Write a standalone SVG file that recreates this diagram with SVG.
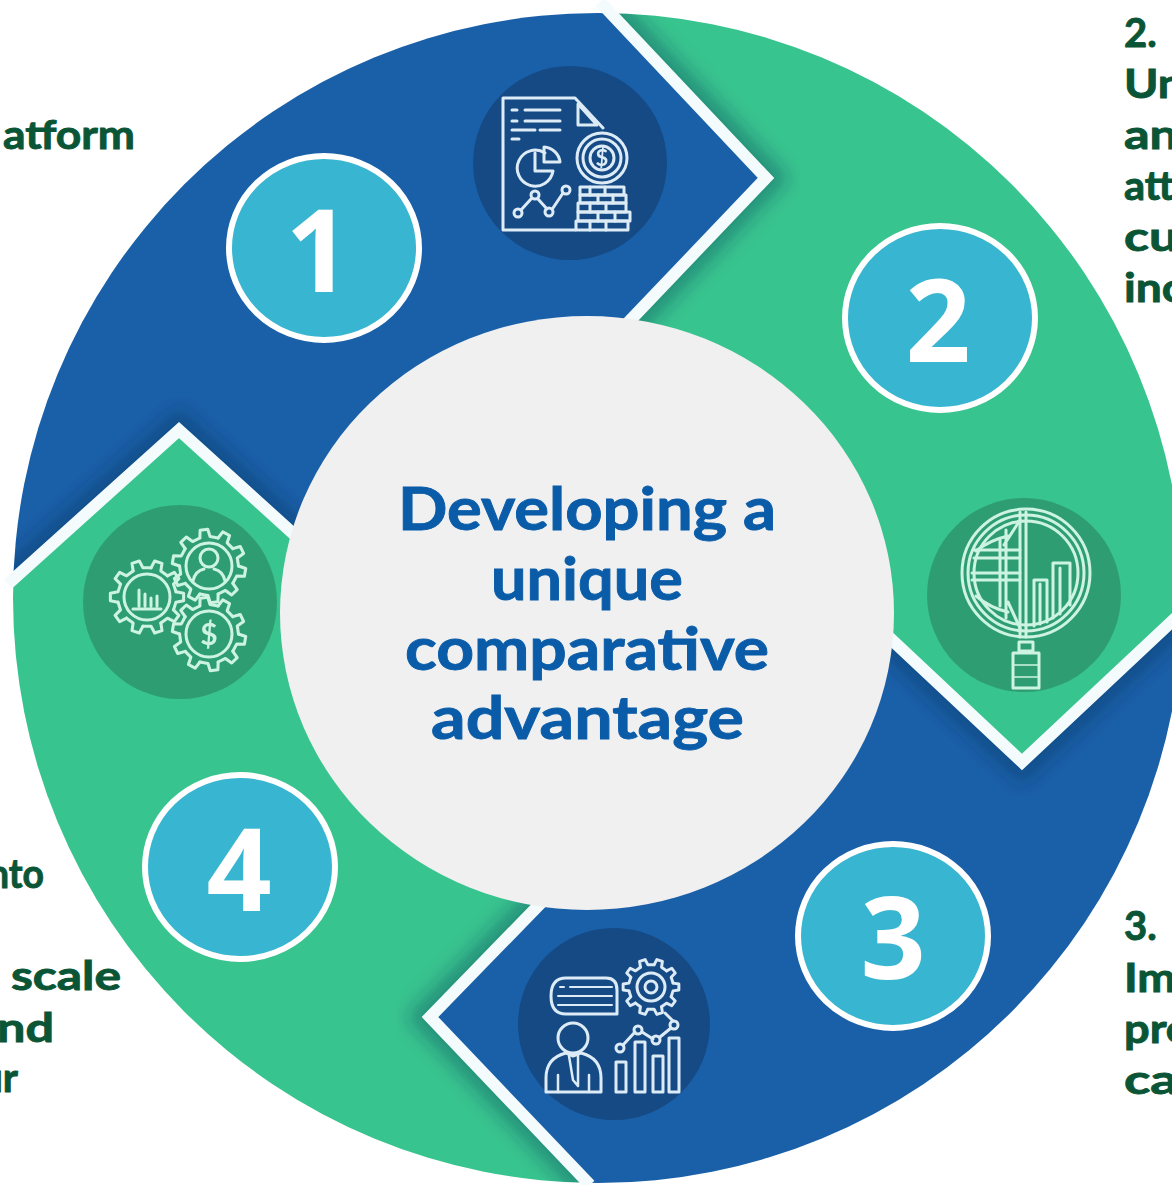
<svg xmlns="http://www.w3.org/2000/svg" xmlns:xlink="http://www.w3.org/1999/xlink" width="1172" height="1185" viewBox="0 0 1172 1185">
<style>
text{font-family:"Lato","Open Sans","Liberation Sans",sans-serif;font-weight:700}
.blue{fill:#1A60A8}.green{fill:#38C48F}
.sep{fill:none;stroke:#F4FBFC;stroke-width:12;stroke-linejoin:miter;stroke-miterlimit:8}
.sh{fill:none;stroke:#06304F;stroke-opacity:.34;stroke-width:34}
.num{fill:#38B5D0;stroke:#fff;stroke-width:6}
.digit{fill:#fff;font-family:"Open Sans","Liberation Sans",sans-serif;font-weight:700;font-size:114px;text-anchor:middle}
.lab{fill:#0B5537;stroke:#0B5537;stroke-width:.9;font-size:40px}
.title{fill:#0A5CA8;stroke:#0A5CA8;stroke-width:.9;font-size:60px}
.ib{fill:none;stroke:#DCEBF6;stroke-width:3;stroke-linejoin:round;stroke-linecap:round}
.ig{fill:none;stroke:#CDF3E2;stroke-width:3;stroke-linejoin:round;stroke-linecap:round}
.ds{stroke:none;font-size:22px;text-anchor:middle}
</style>
<defs>
<clipPath id="disc"><circle cx="598" cy="598" r="585"/></clipPath>
<clipPath id="c1"><polygon points="587,613 330,567 179,430 0,591 0,0 598,0 766,178 600,352"/></clipPath>
<clipPath id="c2"><polygon points="587,613 600,352 766,178 598,0 1200,0 1200,595 1022,762 860,610"/></clipPath>
<clipPath id="c3"><polygon points="587,613 860,610 1022,762 1200,595 1200,1195 600,1195 430,1017 570,873"/></clipPath>
<clipPath id="c4"><polygon points="587,613 570,873 430,1017 600,1195 0,1195 0,591 179,430 330,567"/></clipPath>
<filter id="soft" x="-10%" y="-10%" width="120%" height="120%"><feGaussianBlur stdDeviation="0.7"/></filter>
<filter id="shb" x="-20%" y="-20%" width="140%" height="140%"><feGaussianBlur stdDeviation="9"/></filter>
<polyline id="tooth" points="31.5,-5.6 39.8,-4.2 39.8,4.2 31.5,5.6 28.8,14"/>
<g id="gear">
<use xlink:href="#tooth" href="#tooth"/>
<use xlink:href="#tooth" href="#tooth" transform="rotate(36)"/>
<use xlink:href="#tooth" href="#tooth" transform="rotate(72)"/>
<use xlink:href="#tooth" href="#tooth" transform="rotate(108)"/>
<use xlink:href="#tooth" href="#tooth" transform="rotate(144)"/>
<use xlink:href="#tooth" href="#tooth" transform="rotate(180)"/>
<use xlink:href="#tooth" href="#tooth" transform="rotate(216)"/>
<use xlink:href="#tooth" href="#tooth" transform="rotate(252)"/>
<use xlink:href="#tooth" href="#tooth" transform="rotate(288)"/>
<use xlink:href="#tooth" href="#tooth" transform="rotate(324)"/>
</g>
</defs>
<rect width="1172" height="1185" fill="#fff"/>

<g id="connectors" clip-path="url(#disc)">
<polygon class="blue" points="587,613 330,567 179,430 0,591 0,0 598,0 766,178 600,352"/>
<polygon class="green" points="587,613 600,352 766,178 598,0 1200,0 1200,595 1022,762 860,610"/>
<polygon class="blue" points="587,613 860,610 1022,762 1200,595 1200,1195 600,1195 430,1017 570,873"/>
<polygon class="green" points="587,613 570,873 430,1017 600,1195 0,1195 0,591 179,430 330,567"/>
<g clip-path="url(#c2)"><polyline class="sh" filter="url(#shb)" points="598,0 766,178 600,352"/></g>
<g clip-path="url(#c3)"><polyline class="sh" filter="url(#shb)" points="860,610 1022,762 1200,595"/></g>
<g clip-path="url(#c4)"><polyline class="sh" filter="url(#shb)" points="570,873 430,1017 600,1195"/></g>
<g clip-path="url(#c1)"><polyline class="sh" filter="url(#shb)" points="330,567 179,430 0,591"/></g>
</g>
<g id="separators">
<polyline class="sep" points="600,2 766,178 600,352"/>
<polyline class="sep" points="860,610 1022,762 1200,595"/>
<polyline class="sep" points="570,873 430,1017 590,1185"/>
<polyline class="sep" points="330,567 179,430 8,584"/>
</g>

<g id="labels">
<text class="lab" x="3" y="149" textLength="132" lengthAdjust="spacingAndGlyphs">atform</text>
<text class="lab" x="-12" y="888" textLength="56" lengthAdjust="spacingAndGlyphs">nto</text>
<text class="lab" x="11" y="990" textLength="110" lengthAdjust="spacingAndGlyphs">scale</text>
<text class="lab" x="-3" y="1042" textLength="57" lengthAdjust="spacingAndGlyphs">nd</text>
<text class="lab" x="-20" y="1092" textLength="38" lengthAdjust="spacingAndGlyphs">ur</text>
<text class="lab" x="1124" y="47">2.</text>
<text class="lab" x="1124" y="98" textLength="60" lengthAdjust="spacingAndGlyphs">Un</text>
<text class="lab" x="1124" y="149" textLength="54" lengthAdjust="spacingAndGlyphs">an</text>
<text class="lab" x="1124" y="200" textLength="50" lengthAdjust="spacingAndGlyphs">att</text>
<text class="lab" x="1124" y="251" textLength="54" lengthAdjust="spacingAndGlyphs">cu</text>
<text class="lab" x="1124" y="302" textLength="60" lengthAdjust="spacingAndGlyphs">inc</text>
<text class="lab" x="1124" y="940">3.</text>
<text class="lab" x="1124" y="992" textLength="52" lengthAdjust="spacingAndGlyphs">Im</text>
<text class="lab" x="1124" y="1043" textLength="66" lengthAdjust="spacingAndGlyphs">pre</text>
<text class="lab" x="1124" y="1094" textLength="54" lengthAdjust="spacingAndGlyphs">ca</text>
</g>

<g id="node-center">
<ellipse cx="587" cy="613" rx="307" ry="297" fill="#F0F0F1"/>
<text class="title" x="398" y="530" textLength="378" lengthAdjust="spacingAndGlyphs">Developing a</text>
<text class="title" x="491" y="600" textLength="192" lengthAdjust="spacingAndGlyphs">unique</text>
<text class="title" x="405" y="670" textLength="364" lengthAdjust="spacingAndGlyphs">comparative</text>
<text class="title" x="431" y="739" textLength="313" lengthAdjust="spacingAndGlyphs">advantage</text>
</g>

<g id="node-1">
<circle cx="570" cy="163" r="97" fill="#154A85"/>
<g class="ib" filter="url(#soft)">
<path d="M575,230H503V98H575L603,128"/>
<path d="M578,104V125H597Z"/>
<path d="M512,110H517M525,110H560M512,121H517M525,121H560M512,130H535M540,130H560M512,139H519"/>
<path d="M545,153A18,18 0 1 0 553,171H535V153"/>
<path d="M544,147A17,17 0 0 1 560,162H544Z"/>
<path d="M521,210L531,199M538,199L547,209M553,208L563,193"/>
<circle cx="518" cy="213" r="4"/><circle cx="535" cy="195" r="4"/><circle cx="549" cy="212" r="4"/><circle cx="566" cy="190" r="4"/>
<circle cx="602" cy="158" r="25"/><circle cx="602" cy="158" r="19"/><circle cx="602" cy="158" r="12"/>
<text class="ds" x="602" y="166" fill="#DCEBF6">$</text>
<rect x="580" y="187" width="44" height="8"/><rect x="580" y="195" width="46" height="8"/><rect x="578" y="203" width="48" height="9"/><rect x="578" y="212" width="52" height="9"/><rect x="576" y="221" width="52" height="9"/>
<path d="M590,187v8M605,187v8M598,195v8M613,195v8M590,203v9M606,203v9M598,212v9M615,212v9M590,221v9M606,221v9"/>
</g>
<ellipse class="num" cx="324" cy="248" rx="95" ry="92"/>
<text class="digit" x="318" y="292">1</text>
</g>

<g id="node-2">
<circle cx="1024" cy="595" r="97" fill="#2E9E72"/>
<g class="ig" filter="url(#soft)">
<circle cx="1026" cy="573" r="64"/><circle cx="1026" cy="573" r="58"/><circle cx="1026" cy="573" r="52"/>
<path d="M1026,512V637M1020,512V637"/>
<path d="M974,550H1020M974,558H1020M972,573H1020M972,580H1020"/>
<path d="M976,551Q990,540 1008,536M976,596Q990,608 1008,612"/>
<path d="M1000,540V606M1006,530V618M1020,520L1004,545M1008,602L1020,628"/>
<path d="M1034,626V580H1047V622M1040,584V624M1053,618V563H1070V605M1060,568V614"/>
<path d="M1019,642H1033V651H1019Z"/>
<rect x="1013" y="653" width="26" height="35"/>
<path d="M1014,665H1038M1014,677H1038" stroke-width="1.5"/>
</g>
<ellipse class="num" cx="940" cy="318" rx="95" ry="92"/>
<text class="digit" x="938" y="362">2</text>
</g>

<g id="node-3">
<circle cx="614" cy="1024" r="96" fill="#154A85"/>
<g class="ib" filter="url(#soft)">
<path d="M566,978H606Q617,978 617,990V1014H566Q551,1014 551,996Q551,978 566,978Z"/>
<path d="M560,987H564M570,987H612M558,996H612M558,1005H612" stroke-width="2"/>
<use xlink:href="#gear" href="#gear" transform="translate(651,987) scale(.7)" stroke-width="4.2"/>
<circle cx="651" cy="987" r="14"/><circle cx="651" cy="987" r="6"/>
<circle cx="573" cy="1038" r="15"/>
<path d="M546,1092V1078Q546,1058 566,1053L573,1056L581,1053Q601,1058 601,1078V1092Z"/>
<path d="M558,1092V1075M589,1092V1075M569,1056L573,1080L578,1086V1056" stroke-width="2.5"/>
<rect x="616" y="1062" width="10" height="30"/><rect x="635" y="1042" width="10" height="50"/><rect x="653" y="1056" width="10" height="36"/><rect x="669" y="1038" width="10" height="54"/>
<circle cx="620" cy="1048" r="4"/><circle cx="638" cy="1030" r="4"/><circle cx="656" cy="1040" r="4"/><circle cx="674" cy="1025" r="4"/>
<path d="M623,1045L635,1032M642,1032L653,1039M660,1037L671,1028M673,1021L665,1013"/>
</g>
<ellipse class="num" cx="893" cy="936" rx="95" ry="92"/>
<text class="digit" x="893" y="979">3</text>
</g>

<g id="node-4">
<circle cx="180" cy="602" r="97" fill="#2E9E72"/>
<g class="ig" filter="url(#soft)">
<use xlink:href="#gear" href="#gear" transform="translate(147,597) scale(.92)" stroke-width="3.3"/>
<use xlink:href="#gear" href="#gear" transform="translate(209,566) rotate(10) scale(.92)" stroke-width="3.3"/>
<use xlink:href="#gear" href="#gear" transform="translate(209,634) rotate(10) scale(.92)" stroke-width="3.3"/>
<circle cx="147" cy="597" r="23"/><circle cx="209" cy="566" r="23"/><circle cx="209" cy="634" r="23"/>
<path d="M139,606V590M145,606V594M151,606V598M157,606V596M133,609H161"/>
<circle cx="209" cy="558" r="9"/>
<path d="M193,581Q195,571 204,569M225,581Q223,571 214,569"/>
<text class="ds" x="209" y="645" fill="#CDF3E2" style="font-size:30px">$</text>
</g>
<ellipse class="num" cx="240" cy="867" rx="95" ry="92"/>
<text class="digit" x="239" y="911">4</text>
</g>
</svg>
